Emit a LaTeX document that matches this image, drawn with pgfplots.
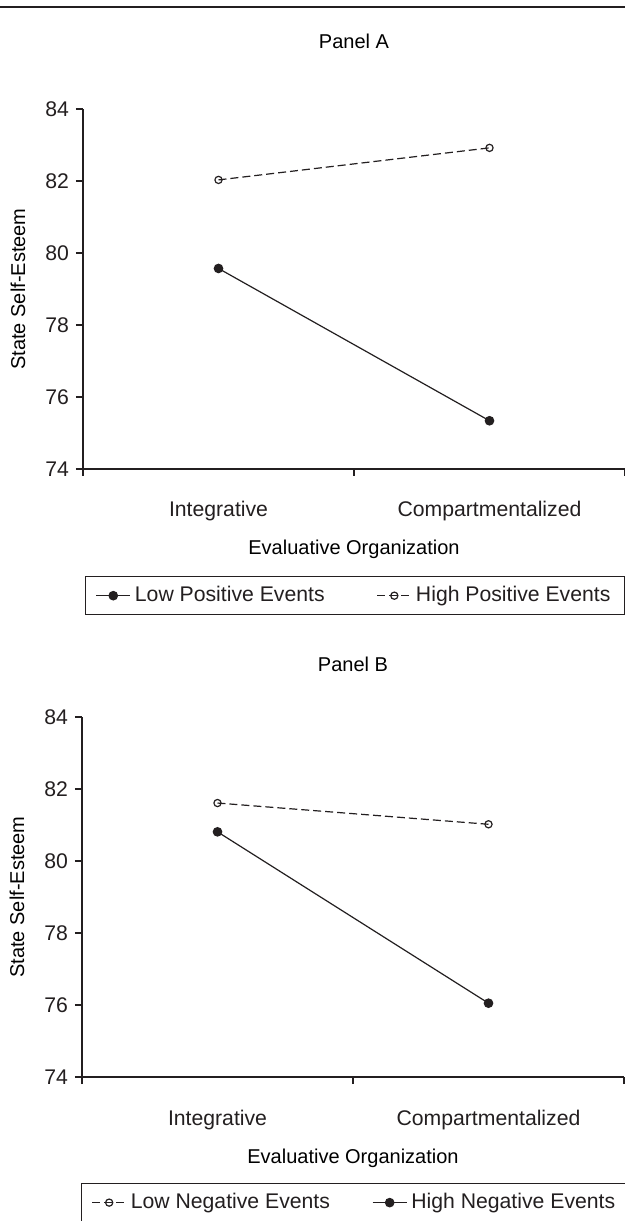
\documentclass[border=0pt]{standalone}
\usepackage{fontspec}
\setmainfont{Liberation Sans}
\usepackage{pgfplots}
\pgfplotsset{compat=1.18}
\definecolor{ink}{RGB}{35,31,32}
\newcommand{\ff}{\fontsize{10.6}{12.5}\selectfont}
\pgfplotsset{
  panel/.style={
    scale only axis, width=271pt, height=180pt,
    xmin=0, xmax=2, ymin=74, ymax=84,
    axis x line*=bottom, axis y line*=left,
    axis line style={line width=0.6pt, ink, -},
    xtick={0,1,2}, xticklabels={},
    extra x ticks={0.5,1.5},
    extra x tick labels={Integrative,Compartmentalized},
    extra x tick style={major tick length=0pt, xticklabel style={anchor=base, yshift=-24pt}},
    ytick={74,76,78,80,82,84},
    tick align=outside,
    major tick length=3.5pt,
    tick style={line width=0.6pt, ink},
    /pgf/number format/assume math mode=true,
    ticklabel style={font=\ff, text=ink},
    xlabel={Evaluative Organization},
    ylabel={State Self-Esteem},
    label style={font=\ff, text=ink},
    every axis x label/.style={at={(axis description cs:0.5,0)}, anchor=base, yshift=-43pt},
    every axis y label/.style={at={(axis description cs:-0.107,0.5)}, rotate=90, anchor=base},
    title style={font=\ff, text=ink},
    legend columns=2,
    legend cell align=left,
    legend image code/.code={\draw[mark repeat=2,mark phase=2] plot coordinates {(0cm,0cm) (0.3cm,0cm) (0.6cm,0cm)};},
    legend style={at={(axis description cs:0.0037,-0.297)}, anchor=north west,
      draw=ink, line width=0.6pt, font=\ff, text=ink, inner xsep=5pt, inner ysep=3pt,
      /tikz/every even column/.append style={column sep=24pt}},
  },
  solidser/.style={ink, line width=0.6pt, mark=*, mark size=2.1pt, mark options={solid, fill=ink}},
  dashser/.style={ink, line width=0.6pt, dash pattern=on 4pt off 2pt, mark=o, mark size=1.8pt, mark options={solid, fill=white}},
}
\begin{document}
\begin{tikzpicture}
\path[use as bounding box] (0,0) rectangle (312.5pt,610.5pt);
\fill[white] (0,0) rectangle (312.5pt,610.5pt);
\draw[line width=1.4pt, ink] (0,607pt) -- (312.5pt,607pt);
% Panel A
\begin{axis}[panel, at={(41.5pt,376pt)}, anchor=south west,
  title={Panel A},
  every axis title/.style={at={(axis description cs:0.5,1)}, anchor=base, yshift=30pt}]
\addplot[solidser] coordinates {(0.5,79.57) (1.5,75.34)};
\addlegendentry{Low Positive Events}
\addplot[dashser] coordinates {(0.5,82.03) (1.5,82.92)};
\addlegendentry{High Positive Events}
\end{axis}
% Panel B
\begin{axis}[panel, at={(41pt,72pt)}, anchor=south west,
  title={Panel B},
  every axis title/.style={at={(axis description cs:0.5,1)}, anchor=base, yshift=22.5pt},
  legend style={at={(axis description cs:-0.002,-0.294)},
    /tikz/every even column/.append style={column sep=19pt}}]
\addplot[dashser] coordinates {(0.5,81.61) (1.5,81.02)};
\addlegendentry{Low Negative Events}
\addplot[solidser] coordinates {(0.5,80.81) (1.5,76.05)};
\addlegendentry{High Negative Events}
\end{axis}
\end{tikzpicture}
\end{document}
